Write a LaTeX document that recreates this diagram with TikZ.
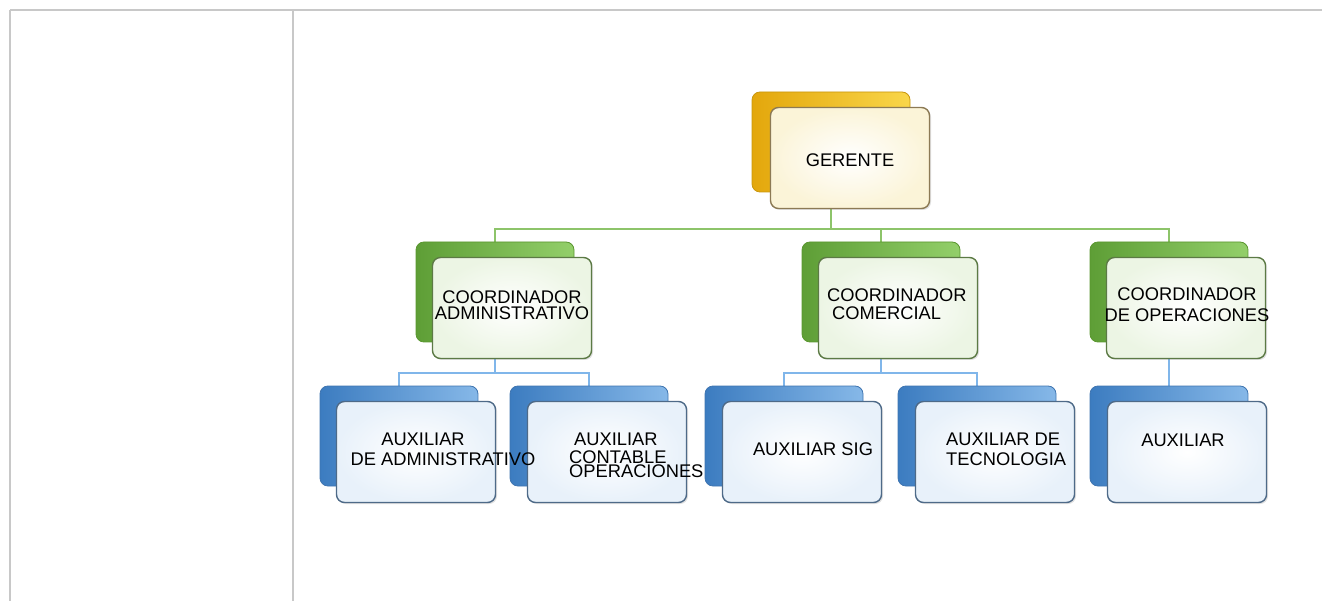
\documentclass[tikz,border=0pt]{standalone}
\usepackage{fontspec}
\setmainfont{Liberation Sans}
\usepackage{xcolor}
\usetikzlibrary{backgrounds,shadows}

\definecolor{goldDark}{HTML}{E3A70C}
\definecolor{goldLight}{HTML}{F9D64A}
\definecolor{goldLine}{HTML}{C8960E}
\definecolor{creamFill}{HTML}{FBF4D8}
\definecolor{creamLine}{HTML}{8C7A55}
\definecolor{leafDark}{HTML}{5E9E36}
\definecolor{leafLight}{HTML}{93CF6A}
\definecolor{leafLine}{HTML}{5A962F}
\definecolor{mintFill}{HTML}{ECF5E4}
\definecolor{mintLine}{HTML}{5C7A45}
\definecolor{skyDark}{HTML}{3C7CC0}
\definecolor{skyLight}{HTML}{86B8E8}
\definecolor{skyLine}{HTML}{3E74B0}
\definecolor{iceFill}{HTML}{E8F1FA}
\definecolor{iceLine}{HTML}{4E6A88}
\definecolor{greenLink}{HTML}{8DC46A}
\definecolor{blueLink}{HTML}{80B6EA}
\definecolor{frameGray}{HTML}{C8C8C8}

\tikzset{
    back-box/.style = {rectangle, rounded corners=8pt, minimum width=158pt, minimum height=100pt, inner sep=0pt, line width=0.8pt},
    front-box/.style = {rectangle, rounded corners=8pt, minimum width=159pt, minimum height=101pt, inner sep=0pt, line width=1.4pt, drop shadow={opacity=0.25, shadow xshift=1.5pt, shadow yshift=-1.5pt}},
    gold-back/.style = {back-box, draw=goldLine, left color=goldDark, right color=goldLight},
    gold-front/.style = {front-box, draw=creamLine, inner color=white, outer color=creamFill},
    leaf-back/.style = {back-box, draw=leafLine, left color=leafDark, right color=leafLight},
    leaf-front/.style = {front-box, draw=mintLine, inner color=white, outer color=mintFill},
    sky-back/.style = {back-box, draw=skyLine, left color=skyDark, right color=skyLight},
    sky-front/.style = {front-box, draw=iceLine, inner color=white, outer color=iceFill},
    box-text/.style = {font=\fontsize{18.3}{18}\selectfont, inner sep=0pt, anchor=base, align=center},
    green-link/.style = {draw=greenLink, line width=2pt},
    blue-link/.style = {draw=blueLink, line width=2pt},
    frame-line/.style = {draw=frameGray, line width=2pt},
}

\begin{document}
\begin{tikzpicture}[x=1pt, y=-1pt]
\useasboundingbox (0,0) rectangle (1322,601);

% table frame
\draw[frame-line] (10,10) -- (1322,10);
\draw[frame-line] (10,10) -- (10,601);
\draw[frame-line] (293,10) -- (293,601);

% gerente
\node[gold-back] (gerente-back) at (831,142) {};
\node[gold-front] (gerente) at ([shift={(19,16)}]gerente-back.center) {};

% coordinadores
\node[leaf-back] (admin-back) at (495,292) {};
\node[leaf-front] (admin) at ([shift={(17,16)}]admin-back.center) {};
\node[leaf-back] (comer-back) at (881,292) {};
\node[leaf-front] (comer) at ([shift={(17,16)}]comer-back.center) {};
\node[leaf-back] (oper-back) at (1169,292) {};
\node[leaf-front] (oper) at ([shift={(17,16)}]oper-back.center) {};

% auxiliares
\node[sky-back] (aux-adm-back) at (399,436) {};
\node[sky-front] (aux-adm) at ([shift={(17,16)}]aux-adm-back.center) {};
\node[sky-back] (aux-cont-back) at (589,436) {};
\node[sky-front] (aux-cont) at ([shift={(18,16)}]aux-cont-back.center) {};
\node[sky-back] (aux-sig-back) at (784,436) {};
\node[sky-front] (aux-sig) at ([shift={(18,16)}]aux-sig-back.center) {};
\node[sky-back] (aux-tec-back) at (977,436) {};
\node[sky-front] (aux-tec) at ([shift={(18,16)}]aux-tec-back.center) {};
\node[sky-back] (aux-op-back) at (1169,436) {};
\node[sky-front] (aux-op) at ([shift={(18,16)}]aux-op-back.center) {};

% texts on top of every box
\node[box-text] (gerente-text) at (850,167) {GERENTE};
\node[box-text] (admin-text) at (512,320) {COORDINADOR\\[-1pt]ADMINISTRATIVO};
\node[box-text, anchor=base west, align=left] (comer-text) at (827,320) {COORDINADOR\\\hspace*{5pt}COMERCIAL};
\node[box-text] (oper-text) at (1187,322) {COORDINADOR\\[3pt]DE OPERACIONES};
\node[box-text] (aux-adm-text) at (443,465) {AUXILIAR\hspace{40pt}\mbox{}\\[2pt]DE ADMINISTRATIVO};
\node[box-text, anchor=base west, align=left] (aux-cont-text) at (569,477) {\hspace*{5pt}AUXILIAR\\CONTABLE\\[-4pt]OPERACIONES};
\node[box-text] (aux-sig-text) at (813,455) {AUXILIAR SIG};
\node[box-text, anchor=base west, align=left] (aux-tec-text) at (946,465) {AUXILIAR DE\\[2pt]TECNOLOGIA};
\node[box-text] (aux-op-text) at (1183,446) {AUXILIAR};

\coordinate (green-bus) at (831,229);
\coordinate (admin-bus) at (495,373);
\coordinate (comer-bus) at (881,373);

\begin{scope}[on background layer]
\draw[green-link] (gerente-back.south) -- (green-bus);
\draw[green-link] (admin-back.north) |- (green-bus) -| (oper-back.north);
\draw[green-link] (comer-back.north) -- (comer-back.north |- green-bus);
\draw[blue-link] (admin-back.south) -- (admin-bus);
\draw[blue-link] (aux-adm-back.north) |- (admin-bus) -| (aux-cont-back.north);
\draw[blue-link] (comer-back.south) -- (comer-bus);
\draw[blue-link] (aux-sig-back.north) |- (comer-bus) -| (aux-tec-back.north);
\draw[blue-link] (oper-back.south) -- (aux-op-back.north);
\end{scope}
\end{tikzpicture}
\end{document}
